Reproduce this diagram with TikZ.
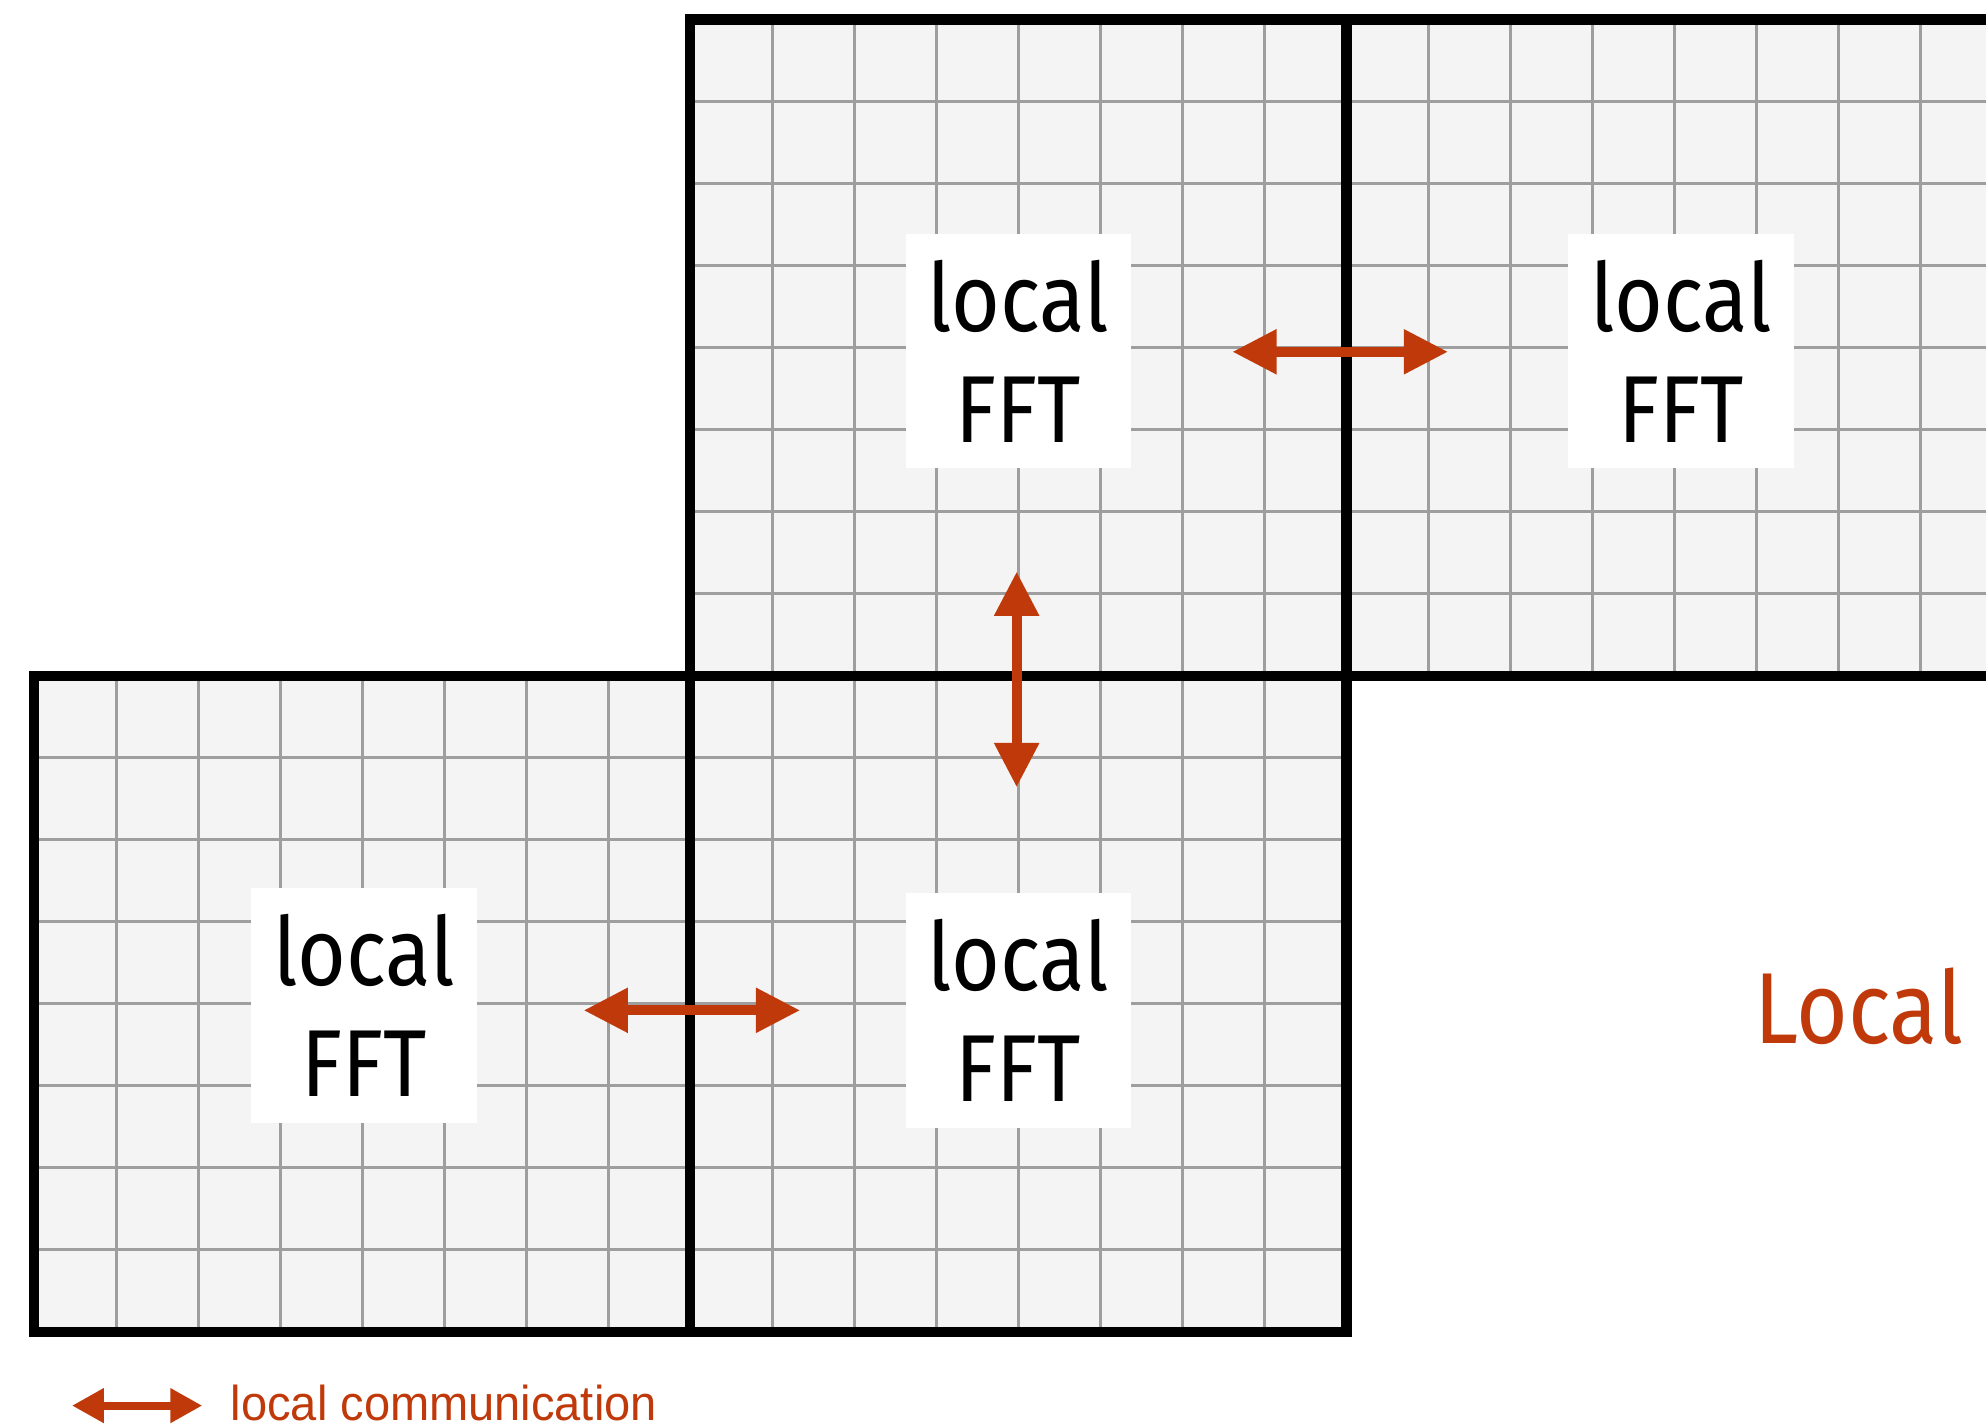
\documentclass[tikz,border=0pt]{standalone}
\usepackage{fontspec}
\setmainfont{Fira Sans}[FakeStretch=0.88]
\newfontfamily\legendfont{Liberation Sans}[FakeStretch=0.96]
\usetikzlibrary{arrows.meta,positioning}
\definecolor{commred}{RGB}{192,57,10}
\definecolor{cellgray}{RGB}{244,244,244}
\tikzset{
    %Define style for the local blocks
    block/.style={
           draw=black,
           line width=3.6pt},
    gridline/.style={
           draw=black!38,
           line width=1pt},
    %Define style for the labels
    fftlabel/.style={
           rectangle,
           fill=white,
           minimum width=2.75cm,
           minimum height=2.86cm,
           inner sep=0pt,
           align=center,
           font=\fontsize{33}{38.6}\selectfont},
    % Define arrow style
    comm/.style={
           {Triangle[length=5.4mm,width=5.2mm]}-{Triangle[length=5.4mm,width=5.2mm]},
           draw=commred,
           line width=3.4pt},
    legendarrow/.style={
           {Triangle[length=3.9mm,width=4mm]}-{Triangle[length=3.9mm,width=4mm]},
           draw=commred,
           line width=2.8pt}
}

\begin{document}
\begin{tikzpicture}
\useasboundingbox (-0.417,-1.158) rectangle (23.80,16.24);
% blocks with their cells
\foreach \bx/\by in {0/0,8/0,8/8,16/8}{
    \fill[cellgray] (\bx,\by) rectangle ({\bx+8},{\by+8});
    \draw[gridline] (\bx,\by) grid ({\bx+8},{\by+8});
}
\foreach \bx/\by in {0/0,8/0,8/8,16/8}{
    \draw[block] (\bx,\by) rectangle ({\bx+8},{\by+8});
}
% labels
\node[fftlabel] (fftA) at (12,11.96) {local\\FFT};
\node[fftlabel] (fftB) at (20.08,11.96) {local\\FFT};
\node[fftlabel] (fftC) at (4.02,3.98) {local\\FFT};
\node[fftlabel] (fftD) at (12,3.92) {local\\FFT};
\node[anchor=base west, text=commred, font=\fontsize{35}{40}\selectfont] (localtxt) at (20.85,3.51) {Local};
% communication arrows
\coordinate (topL) at (14.61,11.95);
\coordinate (topR) at (17.24,11.95);
\coordinate (midT) at (11.98,9.27);
\coordinate (midB) at (11.98,6.64);
\coordinate (botL) at (6.70,3.92);
\coordinate (botR) at (9.34,3.92);
\draw[comm] (topL) -- (topR);
\draw[comm] (midT) -- (midB);
\draw[comm] (botL) -- (botR);
% legend
\coordinate (legL) at (0.46,-0.90);
\coordinate (legR) at (2.05,-0.90);
\draw[legendarrow] (legL) -- (legR);
\node[anchor=base west, text=commred, inner sep=0pt, font=\legendfont\fontsize{17}{20}\selectfont] (legtxt) at (2.39,-1.08) {local communication};
\end{tikzpicture}
\end{document}
